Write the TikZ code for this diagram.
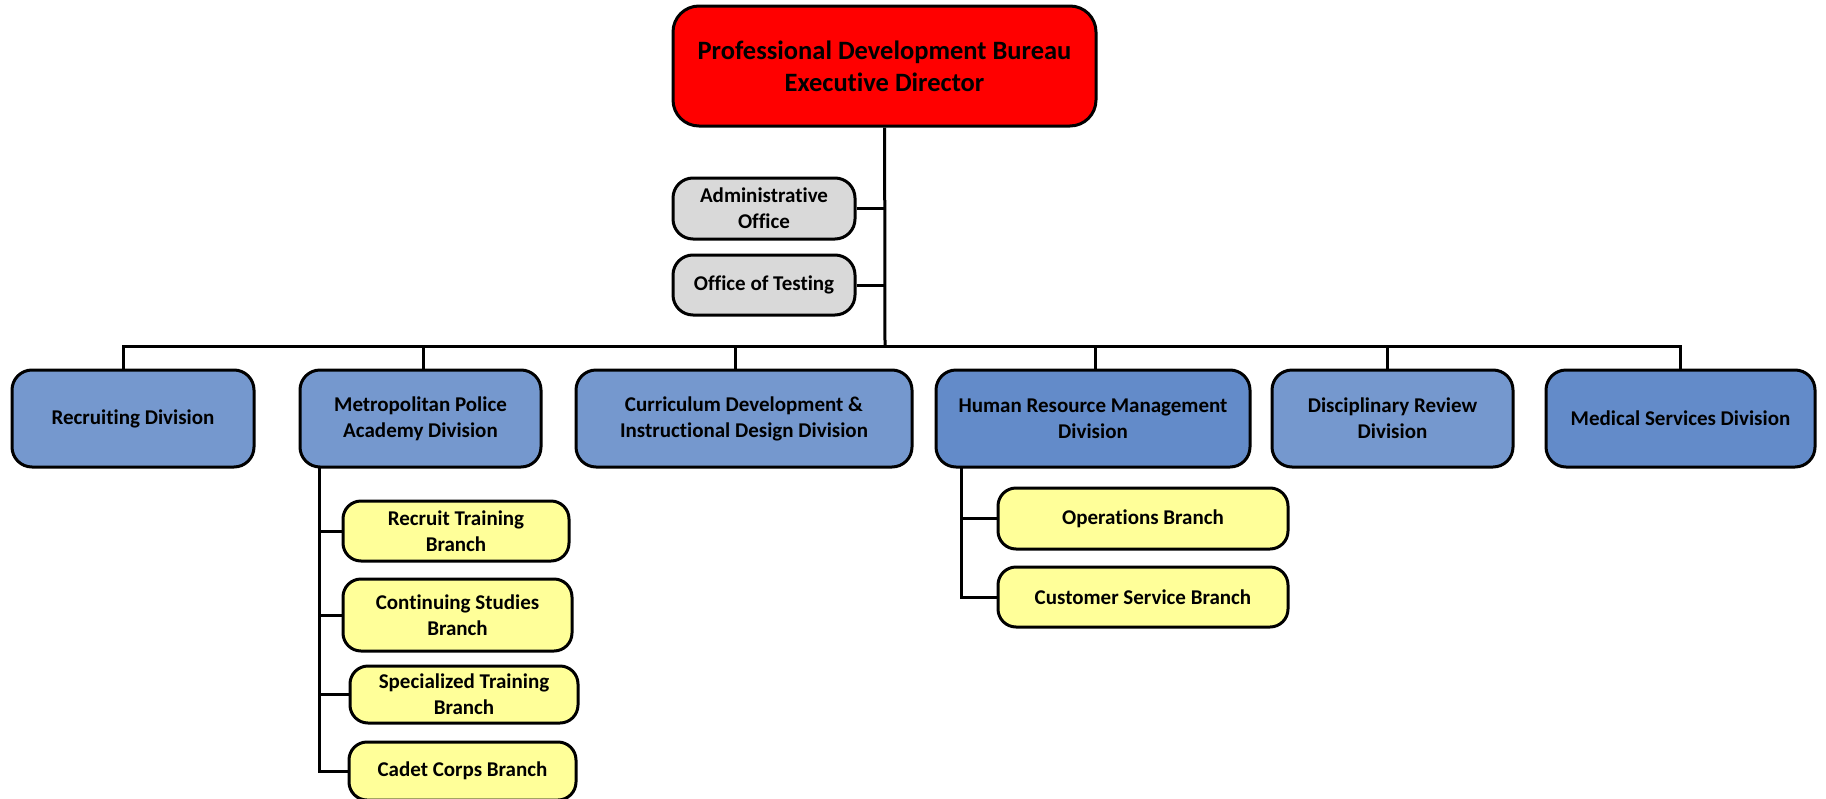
\documentclass[tikz,border=0pt]{standalone}
\usepackage{fontspec}
\setmainfont{Carlito}[Ligatures = NoCommon]
\usetikzlibrary{positioning}

\definecolor{execred}{RGB}{255,0,0}
\definecolor{officegray}{RGB}{217,217,217}
\definecolor{divblue}{RGB}{117,152,206}
\definecolor{divdark}{RGB}{99,139,201}
\definecolor{branchyellow}{RGB}{255,255,153}

\begin{document}
\begin{tikzpicture}[
                x = 1pt, y = -1pt, % pixel grid of the chart
                line width = 3pt, % line style
                box/.style = {draw = black, rounded corners = 20pt, align = center,
                    inner sep = 2pt, font = \bfseries\fontsize{21}{26}\selectfont},
                exec/.style = {box, fill = execred, rounded corners = 26pt,
                    font = \bfseries\fontsize{26.5}{32}\selectfont},
                office/.style = {box, fill = officegray, minimum width = 182pt},
                division/.style = {box, fill = divblue, minimum height = 97pt},
                branch/.style = {box, fill = branchyellow, rounded corners = 18pt}
            ]

            \useasboundingbox (0,0) rectangle (1826,798);

            % top of the chart
            \node[exec, minimum width = 423pt, minimum height = 120pt] (exec) at (884.5,66)
                {Professional Development Bureau\\Executive Director};
            \node[office, minimum height = 61pt] (admin) at (764,208.5) {Administrative\\Office};
            \node[office, minimum height = 60pt] (testing) at (764,285) {Office of Testing};

            % divisions
            \node[division, minimum width = 242pt] (recruit) at (133,418.5) {Recruiting Division};
            \node[division, minimum width = 241pt] (academy) at (420.5,418.5) {Metropolitan Police\\Academy Division};
            \node[division, minimum width = 336pt] (curriculum) at (744,418.5) {Curriculum Development \&\\Instructional Design Division};
            \node[division, fill = divdark, minimum width = 314pt] (hrm) at (1093,418.5) {Human Resource Management\\Division};
            \node[division, minimum width = 241pt] (review) at (1392.5,418.5) {Disciplinary Review\\Division};
            \node[division, fill = divdark, minimum width = 269pt] (medical) at (1680.5,418.5) {Medical Services Division};

            % branches
            \node[branch, minimum width = 226pt, minimum height = 60pt] (recruittrain) at (456,531) {Recruit Training\\Branch};
            \node[branch, minimum width = 229pt, minimum height = 72pt] (studies) at (457.5,615) {Continuing Studies\\Branch};
            \node[branch, minimum width = 228pt, minimum height = 57pt] (specialized) at (464,694.5) {Specialized Training\\Branch};
            \node[branch, minimum width = 227pt, minimum height = 58pt] (cadet) at (462.5,771) {Cadet Corps Branch};
            \node[branch, minimum width = 290pt, minimum height = 61pt] (operations) at (1143,518.5) {Operations Branch};
            \node[branch, minimum width = 290pt, minimum height = 60pt] (customer) at (1143,597) {Customer Service Branch};

            \coordinate (bus) at (885,346);
            \coordinate (academytrunk) at (319,467);
            \coordinate (hrmtrunk) at (961,467);

            \draw (exec) -- (bus);
            \draw (admin.east) -- (admin.east -| bus);
            \draw (testing.east) -- (testing.east -| bus);
            \draw ([xshift=-10pt]recruit.north) |- (bus) -| (medical.north);
            \draw ([xshift=2.5pt]academy.north) -- ++(0,-24);
            \draw ([xshift=-9pt]curriculum.north) -- ++(0,-24);
            \draw ([xshift=2pt]hrm.north) -- ++(0,-24);
            \draw ([xshift=-5pt]review.north) -- ++(0,-24);

            \draw (academytrunk) |- (cadet.west);
            \foreach \b in {recruittrain, studies, specialized}
                \draw (\b.west) -- (\b.west -| academytrunk);
            \draw (hrmtrunk) |- (customer.west);
            \draw (operations.west) -- (operations.west -| hrmtrunk);
        \end{tikzpicture}
\end{document}
